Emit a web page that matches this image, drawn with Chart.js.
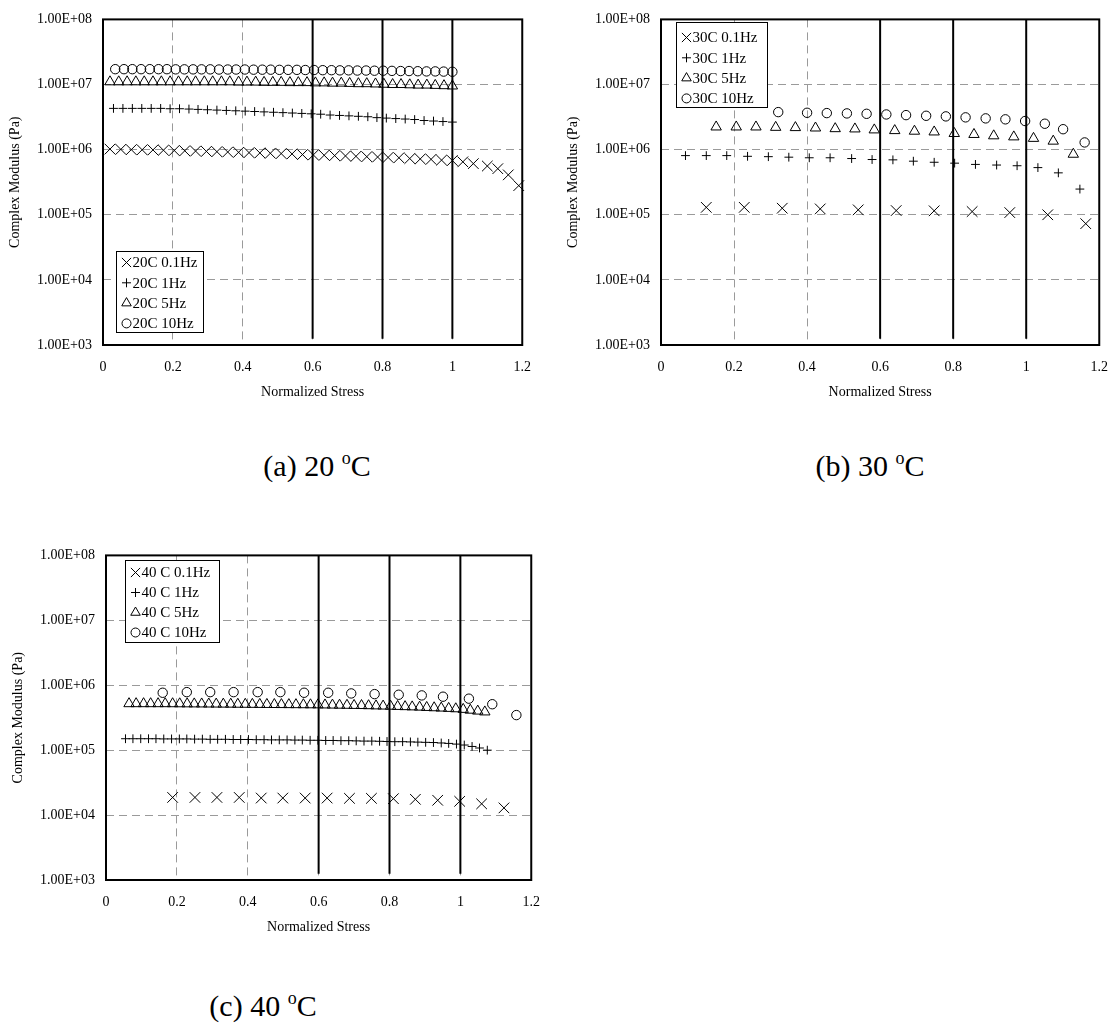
<!DOCTYPE html>
<html>
<head>
<meta charset="utf-8">
<script src="https://cdn.jsdelivr.net/npm/chart.js@4.4.1/dist/chart.umd.min.js"></script>
<style>
  html, body { margin: 0; padding: 0; background: #fff; }
  body { width: 1115px; height: 1026px; position: relative; overflow: hidden; font-family: "Liberation Serif", "Times New Roman", serif; }
  canvas { position: absolute; }
  .cap { position: absolute; font-size: 30px; line-height: 34px; transform: translate(-50%, -50%); white-space: nowrap; color: #000; }
  .cap .deg { font-size: 18px; position: relative; top: -12px; }
</style>
</head>
<body>
<canvas id="c20" width="545" height="410" style="left:0px;top:0px"></canvas>
<canvas id="c30" width="564" height="410" style="left:558px;top:0px"></canvas>
<canvas id="c40" width="551" height="409" style="left:3px;top:536px"></canvas>
<div class="cap" style="left:317px;top:468px">(a) 20 <span class="deg">o</span>C</div>
<div class="cap" style="left:870px;top:468px">(b) 30 <span class="deg">o</span>C</div>
<div class="cap" style="left:263px;top:1008px">(c) 40 <span class="deg">o</span>C</div>
<script>
// axis ticks
const xTicks = [0, 0.2, 0.4, 0.6, 0.8, 1, 1.2];
const xTickLabels = ['0', '0.2', '0.4', '0.6', '0.8', '1', '1.2'];
const yTicks = [1e3, 1e4, 1e5, 1e6, 1e7, 1e8];
const yTickLabels = ['1.00E+03', '1.00E+04', '1.00E+05', '1.00E+06', '1.00E+07', '1.00E+08'];

// black reference lines (normalized stress) and their vertical extent
const refLines = [0.6, 0.8, 1.0];
const refSpan = [1e8, 1.25e3];

// 20 C
const labels20 = ['20C 0.1Hz', '20C 1Hz', '20C 5Hz', '20C 10Hz'];
const stress20_01 = [0.020,0.051,0.081,0.112,0.143,0.173,0.204,0.234,0.265,0.296,0.326,0.357,0.388,0.418,0.449,0.479,0.510,0.541,0.571,0.602,
  0.633,0.663,0.694,0.724,0.755,0.786,0.816,0.847,0.878,0.908,0.939,0.969,1.000,1.03,1.06,1.10,1.13,1.16,1.19];
const modulus20_01 = [1.02e6,1.01e6,1.0e6,9.95e5,9.9e5,9.8e5,9.7e5,9.6e5,9.5e5,9.4e5,9.3e5,9.2e5,9.1e5,9.0e5,8.9e5,8.8e5,8.7e5,8.6e5,8.4e5,8.3e5,
  8.2e5,8.1e5,8.0e5,7.9e5,7.8e5,7.7e5,7.6e5,7.5e5,7.3e5,7.2e5,7.1e5,6.9e5,6.8e5,6.5e5,6.1e5,5.6e5,5.1e5,4.1e5,2.8e5];
const stress20_1 = [0.030,0.057,0.084,0.111,0.138,0.165,0.192,0.219,0.246,0.272,0.299,0.326,0.353,0.380,0.407,0.434,0.461,0.488,0.515,0.542,
  0.569,0.596,0.623,0.650,0.677,0.704,0.731,0.758,0.784,0.811,0.838,0.865,0.892,0.919,0.946,0.973,1.000];
const modulus20_1 = [4.3e6,4.3e6,4.3e6,4.3e6,4.3e6,4.3e6,4.25e6,4.25e6,4.2e6,4.15e6,4.1e6,4.05e6,4.0e6,3.95e6,3.9e6,3.85e6,3.8e6,3.75e6,3.7e6,3.65e6,
  3.6e6,3.55e6,3.5e6,3.4e6,3.35e6,3.3e6,3.25e6,3.2e6,3.1e6,3.05e6,3.0e6,2.95e6,2.9e6,2.8e6,2.75e6,2.7e6,2.65e6];
const stress20_5 = [0.020,0.045,0.069,0.094,0.118,0.143,0.167,0.192,0.216,0.241,0.265,0.290,0.314,0.339,0.363,0.388,0.412,0.437,0.461,0.486,
  0.510,0.535,0.559,0.584,0.608,0.633,0.657,0.682,0.706,0.731,0.755,0.780,0.804,0.829,0.853,0.878,0.902,0.927,0.951,0.976,1.000];
const modulus20_5 = [1.1e7,1.1e7,1.1e7,1.1e7,1.1e7,1.1e7,1.1e7,1.1e7,1.1e7,1.1e7,1.1e7,1.1e7,1.1e7,1.1e7,1.1e7,1.09e7,1.09e7,1.09e7,1.08e7,1.08e7,
  1.08e7,1.07e7,1.07e7,1.07e7,1.06e7,1.06e7,1.05e7,1.05e7,1.04e7,1.03e7,1.03e7,1.02e7,1.01e7,1.0e7,1.0e7,9.9e6,9.8e6,9.8e6,9.7e6,9.6e6,9.5e6];
const stress20_10 = [0.035,0.060,0.084,0.109,0.134,0.159,0.183,0.208,0.233,0.258,0.282,0.307,0.332,0.357,0.381,0.406,0.431,0.456,0.480,0.505,
  0.530,0.555,0.579,0.604,0.629,0.654,0.678,0.703,0.728,0.753,0.777,0.802,0.827,0.852,0.876,0.901,0.926,0.951,0.975,1.000];
const modulus20_10 = [1.72e7,1.72e7,1.72e7,1.72e7,1.72e7,1.72e7,1.72e7,1.71e7,1.71e7,1.71e7,1.71e7,1.71e7,1.70e7,1.70e7,1.70e7,1.70e7,1.69e7,1.69e7,1.69e7,1.68e7,
  1.68e7,1.68e7,1.67e7,1.67e7,1.66e7,1.66e7,1.65e7,1.65e7,1.64e7,1.64e7,1.63e7,1.63e7,1.62e7,1.61e7,1.61e7,1.60e7,1.59e7,1.59e7,1.58e7,1.57e7];

// 30 C
const labels30 = ['30C 0.1Hz', '30C 1Hz', '30C 5Hz', '30C 10Hz'];
const stress30_01 = [0.124,0.228,0.332,0.436,0.540,0.644,0.748,0.852,0.955,1.059,1.163];
const modulus30_01 = [1.30e5,1.30e5,1.26e5,1.23e5,1.19e5,1.16e5,1.15e5,1.12e5,1.08e5,1.0e5,7.3e4];
const stress30_1 = [0.067,0.124,0.180,0.237,0.294,0.350,0.406,0.463,0.522,0.578,0.635,0.691,0.748,0.804,0.861,0.919,0.975,1.032,1.088,1.147];
const modulus30_1 = [8.1e5,8.1e5,8.1e5,7.9e5,7.8e5,7.66e5,7.5e5,7.5e5,7.3e5,7.05e5,6.97e5,6.65e5,6.4e5,6.2e5,5.93e5,5.8e5,5.66e5,5.3e5,4.4e5,2.48e5];
const stress30_5 = [0.151,0.206,0.260,0.314,0.368,0.423,0.477,0.531,0.584,0.640,0.694,0.748,0.803,0.857,0.911,0.966,1.020,1.074,1.129];
const modulus30_5 = [2.23e6,2.23e6,2.23e6,2.2e6,2.18e6,2.15e6,2.1e6,2.08e6,2.01e6,1.96e6,1.92e6,1.87e6,1.77e6,1.71e6,1.63e6,1.57e6,1.49e6,1.35e6,8.5e5];
const stress30_10 = [0.321,0.400,0.454,0.509,0.563,0.617,0.671,0.726,0.780,0.834,0.889,0.943,0.997,1.051,1.101,1.160];
const modulus30_10 = [3.77e6,3.68e6,3.64e6,3.6e6,3.55e6,3.47e6,3.39e6,3.31e6,3.24e6,3.13e6,3.02e6,2.92e6,2.75e6,2.5e6,2.06e6,1.29e6];

// 40 C
const labels40 = ['40 C 0.1Hz', '40 C 1Hz', '40 C 5Hz', '40 C 10Hz'];
const stress40_01 = [0.188,0.251,0.313,0.376,0.438,0.499,0.562,0.624,0.687,0.749,0.811,0.873,0.936,0.998,1.060,1.123];
const modulus40_01 = [1.87e4,1.87e4,1.87e4,1.87e4,1.83e4,1.83e4,1.83e4,1.83e4,1.81e4,1.81e4,1.79e4,1.75e4,1.69e4,1.63e4,1.49e4,1.29e4];
const stress40_1 = [0.055,0.076,0.098,0.12,0.141,0.163,0.185,0.207,0.228,0.25,0.272,0.294,0.315,0.337,0.359,0.38,0.402,0.424,0.446,0.467,
  0.489,0.511,0.533,0.554,0.576,0.598,0.62,0.641,0.663,0.685,0.706,0.728,0.75,0.772,0.793,0.815,0.837,0.859,0.88,0.902,
  0.924,0.946,0.967,0.989,1.011,1.033,1.054,1.076];
const modulus40_1 = [1.50e5,1.50e5,1.50e5,1.50e5,1.50e5,1.49e5,1.49e5,1.49e5,1.49e5,1.48e5,1.48e5,1.47e5,1.47e5,1.47e5,1.46e5,1.46e5,1.46e5,1.45e5,1.45e5,1.44e5,
  1.44e5,1.44e5,1.43e5,1.43e5,1.42e5,1.42e5,1.41e5,1.41e5,1.40e5,1.40e5,1.39e5,1.38e5,1.38e5,1.37e5,1.36e5,1.35e5,1.35e5,1.34e5,1.33e5,1.32e5,
  1.31e5,1.29e5,1.27e5,1.24e5,1.20e5,1.14e5,1.08e5,1.00e5];
const stress40_5 = [0.065,0.085,0.106,0.126,0.147,0.167,0.188,0.208,0.229,0.249,0.27,0.29,0.311,0.331,0.352,0.372,0.393,0.413,0.434,0.454,
  0.475,0.495,0.516,0.536,0.557,0.577,0.598,0.618,0.639,0.659,0.68,0.7,0.721,0.741,0.762,0.782,0.803,0.823,0.844,0.864,
  0.885,0.905,0.926,0.946,0.967,0.987,1.008,1.028,1.049,1.069];
const modulus40_5 = [5.2e5,5.2e5,5.2e5,5.2e5,5.2e5,5.2e5,5.19e5,5.18e5,5.17e5,5.16e5,5.15e5,5.14e5,5.13e5,5.12e5,5.11e5,5.10e5,5.09e5,5.08e5,5.07e5,5.06e5,
  5.05e5,5.04e5,5.03e5,5.02e5,5.01e5,5.00e5,4.99e5,4.97e5,4.95e5,4.93e5,4.91e5,4.89e5,4.87e5,4.84e5,4.81e5,4.78e5,4.75e5,4.72e5,4.68e5,4.64e5,
  4.60e5,4.55e5,4.50e5,4.45e5,4.40e5,4.34e5,4.25e5,4.13e5,4.00e5,3.88e5];
const stress40_10 = [0.160,0.228,0.294,0.360,0.428,0.492,0.559,0.627,0.692,0.758,0.826,0.891,0.951,1.024,1.090,1.158];
const modulus40_10 = [7.66e5,7.83e5,7.83e5,7.83e5,7.83e5,7.83e5,7.66e5,7.66e5,7.48e5,7.3e5,7.14e5,6.97e5,6.66e5,6.21e5,5.1e5,3.47e5];

// marker styles per frequency
const markers = ['crossRot', 'cross', 'triangle', 'circle'];
const markerSize = [7.5, 4.4, 6, 4.7];

Chart.defaults.font.family = '"Liberation Serif", "Times New Roman", serif';
Chart.defaults.color = '#000';

const tickFont = { size: 14 };
const gridColor = '#9a9a9a';

function drawMarker(ctx, style, x, y, r) {
  ctx.beginPath();
  if (style === 'crossRot') {
    const d = r * Math.SQRT1_2;
    ctx.moveTo(x - d, y - d); ctx.lineTo(x + d, y + d);
    ctx.moveTo(x + d, y - d); ctx.lineTo(x - d, y + d);
  } else if (style === 'cross') {
    ctx.moveTo(x - r, y); ctx.lineTo(x + r, y);
    ctx.moveTo(x, y - r); ctx.lineTo(x, y + r);
  } else if (style === 'triangle') {
    ctx.moveTo(x, y - r);
    ctx.lineTo(x + r * 0.866, y + r * 0.5);
    ctx.lineTo(x - r * 0.866, y + r * 0.5);
    ctx.closePath();
  } else {
    ctx.arc(x, y, r, 0, Math.PI * 2);
  }
  ctx.stroke();
}

// plot frame + boxed legend inside the plot area
const boxLegend = {
  id: 'boxLegend',
  afterDraw(chart, args, opts) {
    const ctx = chart.ctx;
    const a = chart.chartArea;
    ctx.save();
    ctx.strokeStyle = '#000';
    ctx.lineWidth = 2;
    ctx.strokeRect(a.left, a.top, a.right - a.left, a.bottom - a.top);

    const bx = Math.round(a.left + opts.dx) + 0.5;
    const by = Math.round(opts.fromBottom ? a.bottom - opts.dy - opts.h : a.top + opts.dy) + 0.5;
    ctx.fillStyle = '#fff';
    ctx.fillRect(bx, by, opts.w, opts.h);
    ctx.lineWidth = 1;
    ctx.strokeRect(bx, by, opts.w, opts.h);

    ctx.font = '15px "Liberation Serif"';
    ctx.textBaseline = 'middle';
    ctx.textAlign = 'left';
    const legendSize = { crossRot: 6.5, cross: 4.5, triangle: 5.5, circle: 4.5 };
    chart.data.datasets.filter(d => d.inLegend).forEach((d, i) => {
      const cy = by + opts.first + i * opts.step;
      ctx.strokeStyle = '#000';
      drawMarker(ctx, d.pointStyle, bx + 10, cy, legendSize[d.pointStyle]);
      ctx.fillStyle = '#000';
      ctx.fillText(d.label, bx + 16, cy + 1);
    });
    ctx.restore();
  }
};

function pts(xs, ys) {
  return xs.map((x, i) => ({ x: x, y: ys[i] }));
}

function makeChart(id, labels, xsList, ysList, legendPos) {
  const datasets = labels.map((label, i) => ({
    label: label,
    data: pts(xsList[i], ysList[i]),
    pointStyle: markers[i],
    pointRadius: markerSize[i],
    pointHoverRadius: markerSize[i],
    pointBorderWidth: 1,
    pointBorderColor: '#000',
    pointBackgroundColor: 'rgba(0,0,0,0)',
    borderColor: '#000',
    showLine: false,
    clip: false,
    order: 0,
    inLegend: true
  }));
  refLines.forEach(v => {
    datasets.push({
      label: 'ref ' + v,
      data: refSpan.map(y => ({ x: v, y: y })),
      showLine: true,
      pointRadius: 0,
      borderColor: '#000',
      borderWidth: 2,
      order: 1
    });
  });

  return new Chart(document.getElementById(id), {
    type: 'scatter',
    data: { datasets: datasets },
    plugins: [boxLegend],
    options: {
      responsive: false,
      animation: false,
      devicePixelRatio: 1,
      layout: { padding: { left: 0, top: 14, right: 19, bottom: 0 } },
      plugins: {
        legend: { display: false },
        tooltip: { enabled: false },
        boxLegend: legendPos
      },
      scales: {
        x: {
          type: 'linear',
          min: 0,
          max: 1.2,
          afterBuildTicks: s => { s.ticks = xTicks.map(v => ({ value: v })); },
          afterFit: s => { s.height = 65; },
          ticks: { callback: (v, i) => xTickLabels[i], padding: 14, font: tickFont, maxRotation: 0, autoSkip: false },
          grid: { color: gridColor, lineWidth: 1, drawTicks: false },
          border: { display: false, dash: [8, 5] },
          title: { display: true, text: 'Normalized Stress', font: { size: 14 }, padding: { top: 0, bottom: 9 } }
        },
        y: {
          type: 'logarithmic',
          min: 1e3,
          max: 1e8,
          afterBuildTicks: s => { s.ticks = yTicks.map(v => ({ value: v })); },
          afterFit: s => { s.width = 103; },
          ticks: { callback: (v, i) => yTickLabels[i], padding: 11, font: tickFont, autoSkip: false },
          grid: { color: gridColor, lineWidth: 1, drawTicks: false },
          border: { display: false, dash: [8, 5] },
          title: { display: true, text: 'Complex Modulus (Pa)', font: { size: 14 }, padding: { top: 7, bottom: 0 } }
        }
      }
    }
  });
}

makeChart('c20', labels20,
  [stress20_01, stress20_1, stress20_5, stress20_10],
  [modulus20_01, modulus20_1, modulus20_5, modulus20_10],
  { dx: 13, dy: 13, fromBottom: true, w: 87, h: 81, first: 11, step: 20.3 });

makeChart('c30', labels30,
  [stress30_01, stress30_1, stress30_5, stress30_10],
  [modulus30_01, modulus30_1, modulus30_5, modulus30_10],
  { dx: 15, dy: 3, fromBottom: false, w: 91, h: 85, first: 15, step: 20.3 });

makeChart('c40', labels40,
  [stress40_01, stress40_1, stress40_5, stress40_10],
  [modulus40_01, modulus40_1, modulus40_5, modulus40_10],
  { dx: 19, dy: 5, fromBottom: false, w: 94, h: 82, first: 12, step: 20 });
</script>
</body>
</html>
